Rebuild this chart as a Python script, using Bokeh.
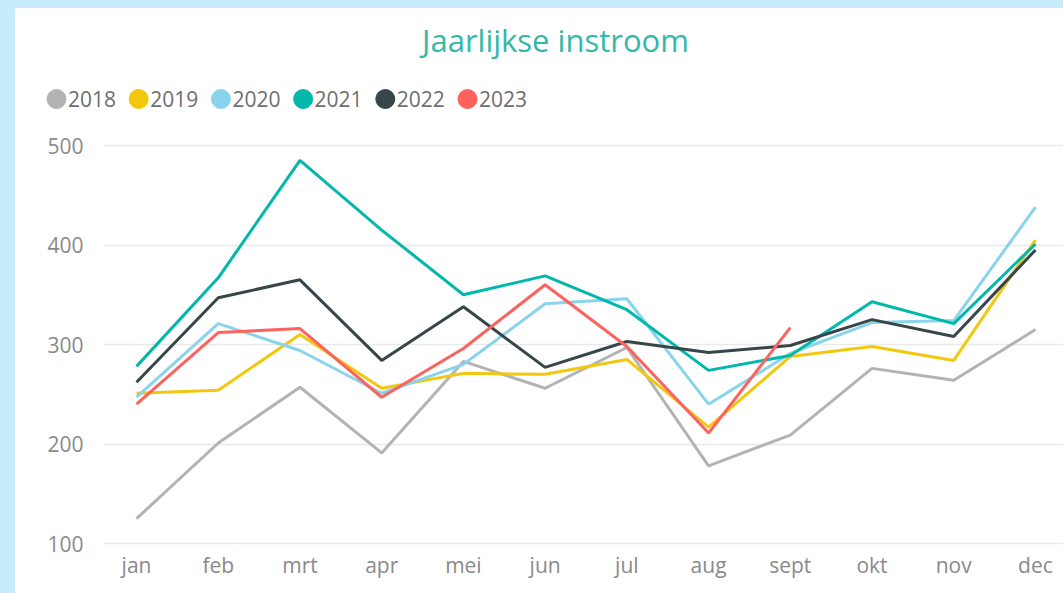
from bokeh.plotting import figure
from bokeh.layouts import column
from bokeh.models import Range1d, FixedTicker, Label, ColumnDataSource
from bokeh.core.properties import value
from bokeh.embed import file_html
from bokeh.resources import INLINE

months = ["jan", "feb", "mrt", "apr", "mei", "jun", "jul", "aug", "sept", "okt", "nov", "dec"]
years = ["2018", "2019", "2020", "2021", "2022", "2023"]
v2018 = [125, 201, 257, 191, 283, 256, 297, 178, 209, 276, 264, 315]
v2019 = [251, 254, 310, 256, 271, 270, 285, 217, 288, 298, 284, 405]
v2020 = [247, 321, 294, 251, 280, 341, 346, 240, 291, 322, 324, 438]
v2021 = [278, 367, 485, 415, 350, 369, 335, 274, 289, 343, 321, 401]
v2022 = [262, 347, 365, 284, 338, 277, 303, 292, 299, 325, 308, 395]
v2023 = [240, 312, 316, 247, 296, 360, 298, 211, 317]
series = [v2018, v2019, v2020, v2021, v2022, v2023]
colors = ["#B3B3B3", "#F2C80F", "#8AD4EB", "#01B8AA", "#374649", "#FD625E"]
y_ticks = [100, 200, 300, 400, 500]

FONT = "Open Sans"
W = 1048
HEAD_H = 117

# ---- header: title + legend (pixel-like coordinates) ----
head = figure(width=W, height=HEAD_H, output_backend="svg", toolbar_location=None,
              x_range=Range1d(0, W), y_range=Range1d(0, HEAD_H),
              x_axis_type=None, y_axis_type=None,
              min_border_left=0, min_border_right=0, min_border_top=0, min_border_bottom=0)
head.outline_line_color = None
head.background_fill_color = "white"
head.border_fill_color = "white"
try:
    head.frame_align = False
except Exception:
    pass

title = Label(x=540, y=HEAD_H - 31, text="Jaarlijkse instroom",
              text_align="center", text_baseline="middle", text_font=FONT,
              text_font_size="31px", text_color="#33b8a9")
head.add_layout(title)

LEG_X0, LEG_PITCH, LEG_Y = 41, 82.2, HEAD_H - 90.5
leg_x = [LEG_X0 + LEG_PITCH * i for i in range(len(years))]
leg_src = ColumnDataSource(dict(x=leg_x, tx=[v + 11.5 for v in leg_x],
                                y=[LEG_Y] * len(years), label=years, color=colors))
head.scatter("x", "y", source=leg_src, marker="circle", size=19,
             fill_color="color", line_color="color")
head.text("tx", "y", text="label", source=leg_src, text_font=value(FONT),
          text_font_size="21px", text_color="#6e6e6e", text_baseline="middle",
          text_align="left")

# ---- main chart ----
PAD = 2 * 400 / 398  # small value padding so edge gridlines are fully visible
p = figure(width=W, height=585 - HEAD_H, output_backend="svg", toolbar_location=None,
           x_range=Range1d(-0.404, 11.343), y_range=Range1d(100 - PAD, 500 + PAD),
           min_border_left=88, min_border_right=0, min_border_top=18, min_border_bottom=48)
p.outline_line_color = None
p.background_fill_color = "white"
p.border_fill_color = "white"
try:
    p.frame_align = False
except Exception:
    pass

idx = list(range(len(months)))
for yr, vals, c in zip(years, series, colors):
    p.line(idx[:len(vals)], vals, line_color=c, line_width=3)

p.xgrid.grid_line_color = None
p.ygrid.grid_line_color = "#e9e9e9"
p.ygrid.grid_line_width = 1.5

p.xaxis.ticker = FixedTicker(ticks=idx)
p.xaxis.major_label_overrides = {i: m for i, m in enumerate(months)}
p.yaxis.ticker = FixedTicker(ticks=y_ticks)
for ax in (p.xaxis, p.yaxis):
    ax.axis_line_color = None
    ax.major_tick_line_color = None
    ax.minor_tick_line_color = None
    ax.major_tick_out = 0
    ax.major_tick_in = 0
    ax.major_label_text_color = "#8a8a8a"
    ax.major_label_text_font = FONT
    ax.major_label_text_font_size = "21px"
p.xaxis.major_label_standoff = 5
p.yaxis.major_label_standoff = 20

layout = column(head, p, spacing=0, styles={"background-color": "white"})

html = file_html(layout, INLINE)
css = ("<style>html{background:#c6ebfb;}"
       "body{background:white;margin:8px 0 0 15px;}</style></head>")
html = html.replace("</head>", css, 1)
open("out.html", "w").write(html)
